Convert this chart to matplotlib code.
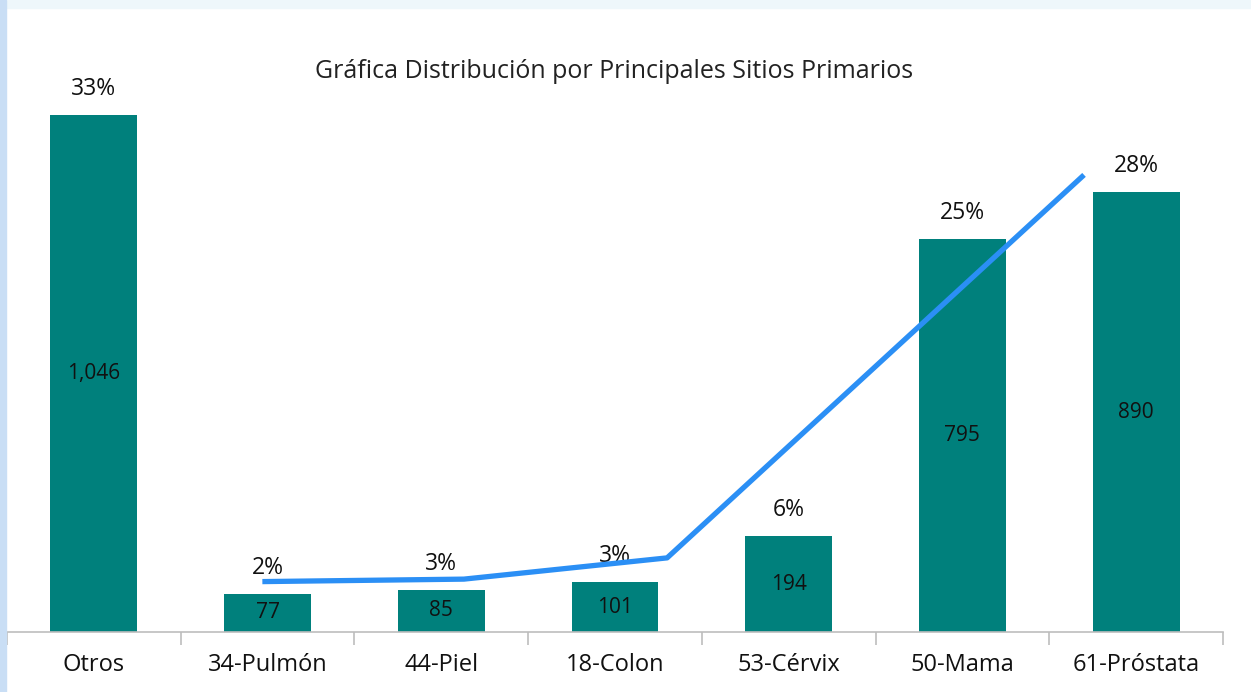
import matplotlib
matplotlib.use("Agg")
import matplotlib.pyplot as plt
from matplotlib.patches import Rectangle

plt.rcParams['font.family'] = ['Open Sans', 'DejaVu Sans']

categorias = ["Otros", "34-Pulmón", "44-Piel", "18-Colon", "53-Cérvix", "50-Mama", "61-Próstata"]
casos = [1046, 77, 85, 101, 194, 795, 890]
porcentajes = ["33%", "2%", "3%", "3%", "6%", "25%", "28%"]

# linea de tendencia (posicion en categorias, valor en escala de casos)
linea_x = [0.97, 2.13, 3.30, 5.70]
linea_y = [102, 107, 150, 925]

fig = plt.figure(figsize=(12.51, 6.92), dpi=100)
fig.patch.set_facecolor("white")

# franjas decorativas del fondo
fig.patches.append(Rectangle((0, 1 - 8 / 692), 1, 8 / 692, transform=fig.transFigure,
                             color="#eef7fb", zorder=0))
fig.patches.append(Rectangle((0, 0), 6 / 1251, 1, transform=fig.transFigure,
                             color="#c9def5", zorder=0))

ax = fig.add_axes([7 / 1251, 60 / 692, 1216 / 1251, 593 / 692])
x = list(range(len(categorias)))
bars = ax.bar(x, casos, width=0.5, color="#00807c", zorder=2)
ax.bar_label(bars, labels=[f"{v:,}" for v in casos], label_type="center",
             fontsize=15, color="#111111")
ax.bar_label(bars, labels=porcentajes, padding=10, fontsize=16.5, color="#111111")

ax.plot(linea_x, linea_y, color="#2b8ff5", lw=3.8, solid_capstyle="butt", zorder=3)

ax.set_xlim(-0.5, len(categorias) - 0.5)
ax.set_ylim(0, 1200)
ax.set_yticks([])
ax.set_xticks(x)
ax.set_xticklabels(categorias, fontsize=17, color="#111111")
ax.set_xticks([i - 0.5 for i in range(len(categorias) + 1)], minor=True)
ax.tick_params(axis="x", which="major", length=0, pad=15)
ax.tick_params(axis="x", which="minor", length=9, width=1.2, color="#bdbdbd")
for s in ["top", "right", "left"]:
    ax.spines[s].set_visible(False)
ax.spines["bottom"].set_color("#bdbdbd")
ax.spines["bottom"].set_linewidth(1.2)
ax.patch.set_alpha(0)

fig.text(614 / 1251, 1 - 72 / 692, "Gráfica Distribución por Principales Sitios Primarios",
         ha="center", va="center", fontsize=18, color="#222222")

fig.savefig("out.png", dpi=100)
